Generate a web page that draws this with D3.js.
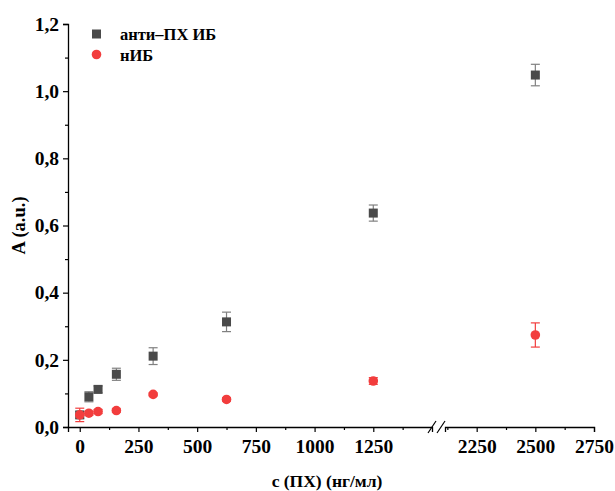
<!DOCTYPE html>
<html><head><meta charset="utf-8">
<script src="https://cdn.jsdelivr.net/npm/d3@7"></script>
<style>body{margin:0;background:#fff}svg{display:block}</style>
</head><body>
<svg id="c" width="615" height="491"></svg>
<script>
// concentrations, ng/ml
const conc = [0, 39, 78, 156, 312.5, 625, 1250, 2500];
const antiVals = [0.036, 0.090, 0.112, 0.157, 0.211, 0.313, 0.637, 1.048];
const antiErr  = [0.010, 0.015, 0.010, 0.018, 0.025, 0.029, 0.024, 0.032];
const nVals = [0.036, 0.041, 0.046, 0.049, 0.097, 0.082, 0.137, 0.274];
const nErr  = [0.020, 0.006, 0.006, 0.005, 0.004, 0.005, 0.010, 0.036];
const seriesNames = ["анти–ПХ ИБ", "нИБ"];
const xTicksLeft = [0, 250, 500, 750, 1000, 1250];
const xTicksRight = [2250, 2500, 2750];
const yTicks = [0, 0.2, 0.4, 0.6, 0.8, 1.0, 1.2];

const svg = d3.select("#c");
const font = "'Liberation Serif','Times New Roman',serif";
const plotTop = 24, plotBottom = 427, x0 = 68;

const y = d3.scaleLinear().domain([0, 1.2]).range([plotBottom, plotTop]);
const xL = d3.scaleLinear().domain([-50, 1500]).range([x0, 432]);
const xR = d3.scaleLinear().domain([2115, 2750]).range([445, 594]);
const x = v => v <= 1500 ? xL(v) : xR(v);

const fmtY = d => d3.format(".1f")(d).replace(".", ",");

// Y axis
svg.append("g").attr("transform", `translate(${x0},0)`)
  .call(d3.axisLeft(y).tickValues(yTicks).tickFormat(fmtY).tickSizeOuter(0).tickSize(5).tickPadding(4));
svg.append("g").attr("transform", `translate(${x0},0)`)
  .call(d3.axisLeft(y).tickValues(d3.range(0.1, 1.2, 0.2)).tickFormat("").tickSizeOuter(0).tickSize(3))
  .select(".domain").remove();

// X axis left segment
svg.append("g").attr("transform", `translate(0,${plotBottom})`)
  .call(d3.axisBottom(xL).tickValues(xTicksLeft).tickFormat(d3.format("d")).tickSizeOuter(0).tickSize(5).tickPadding(7));
svg.append("g").attr("transform", `translate(0,${plotBottom})`)
  .call(d3.axisBottom(xL).tickValues([125, 375, 625, 875, 1125, 1375]).tickFormat("").tickSizeOuter(0).tickSize(3))
  .select(".domain").remove();
// X axis right segment
svg.append("g").attr("transform", `translate(0,${plotBottom})`)
  .call(d3.axisBottom(xR).tickValues(xTicksRight).tickFormat(d3.format("d")).tickSizeOuter(0).tickSize(5).tickPadding(7));
svg.append("g").attr("transform", `translate(0,${plotBottom})`)
  .call(d3.axisBottom(xR).tickValues([2125, 2375, 2625]).tickFormat("").tickSizeOuter(0).tickSize(3))
  .select(".domain").remove();

svg.selectAll(".domain").attr("stroke", "#000").attr("stroke-width", 1.3);
svg.selectAll(".tick line").attr("stroke", "#000").attr("stroke-width", 1.2);
svg.selectAll(".tick text").attr("font-family", font).attr("font-weight", "bold")
  .attr("font-size", 19.5).attr("fill", "#000");

// break marks
const bk = svg.append("g").attr("stroke", "#000").attr("stroke-width", 1.2);
[xL.range()[1], xR.range()[0]].forEach((px, i) => {
  const cx = i === 0 ? px : px - 4;
  bk.append("line").attr("x1", cx - 4).attr("y1", plotBottom + 6).attr("x2", cx + 4).attr("y2", plotBottom - 6);
});

// error bars + markers
function drawSeries(vals, errs, color, errColor, shape) {
  const g = svg.append("g");
  conc.forEach((c, i) => {
    const cx = x(c), lo = y(vals[i] - errs[i]), hi = y(vals[i] + errs[i]);
    g.append("line").attr("x1", cx).attr("x2", cx).attr("y1", lo).attr("y2", hi)
      .attr("stroke", errColor).attr("stroke-width", 1.2);
    [lo, hi].forEach(yy => g.append("line").attr("x1", cx - 4.5).attr("x2", cx + 4.5)
      .attr("y1", yy).attr("y2", yy).attr("stroke", errColor).attr("stroke-width", 1.2));
  });
  conc.forEach((c, i) => {
    const cx = x(c), cy = y(vals[i]);
    if (shape === "square") {
      g.append("rect").attr("x", cx - 4.5).attr("y", cy - 4.5).attr("width", 9).attr("height", 9).attr("fill", color);
    } else {
      g.append("circle").attr("cx", cx).attr("cy", cy).attr("r", 4.8).attr("fill", color);
    }
  });
}
drawSeries(antiVals, antiErr, "#4a4a4a", "#808080", "square");
drawSeries(nVals, nErr, "#f23d3d", "#f23d3d", "circle");

// legend
const lg = svg.append("g");
lg.append("rect").attr("x", 92).attr("y", 29.5).attr("width", 9).attr("height", 9).attr("fill", "#4a4a4a");
lg.append("circle").attr("cx", 96.5).attr("cy", 54.5).attr("r", 4.8).attr("fill", "#f23d3d");
lg.selectAll("text").data(seriesNames).join("text")
  .attr("x", 120).attr("y", (d, i) => 40 + i * 21)
  .attr("font-family", font).attr("font-weight", "bold").attr("font-size", 16.5).attr("fill", "#000")
  .text(d => d);

// axis titles
svg.append("text").attr("x", 327).attr("y", 487).attr("text-anchor", "middle")
  .attr("font-family", font).attr("font-weight", "bold").attr("font-size", 17.5).text("c (ПХ) (нг/мл)");
svg.append("text").attr("transform", `translate(25,${(plotTop + plotBottom) / 2}) rotate(-90)`)
  .attr("text-anchor", "middle")
  .attr("font-family", font).attr("font-weight", "bold").attr("font-size", 18.5).text("A (a.u.)");
</script>
</body></html>
